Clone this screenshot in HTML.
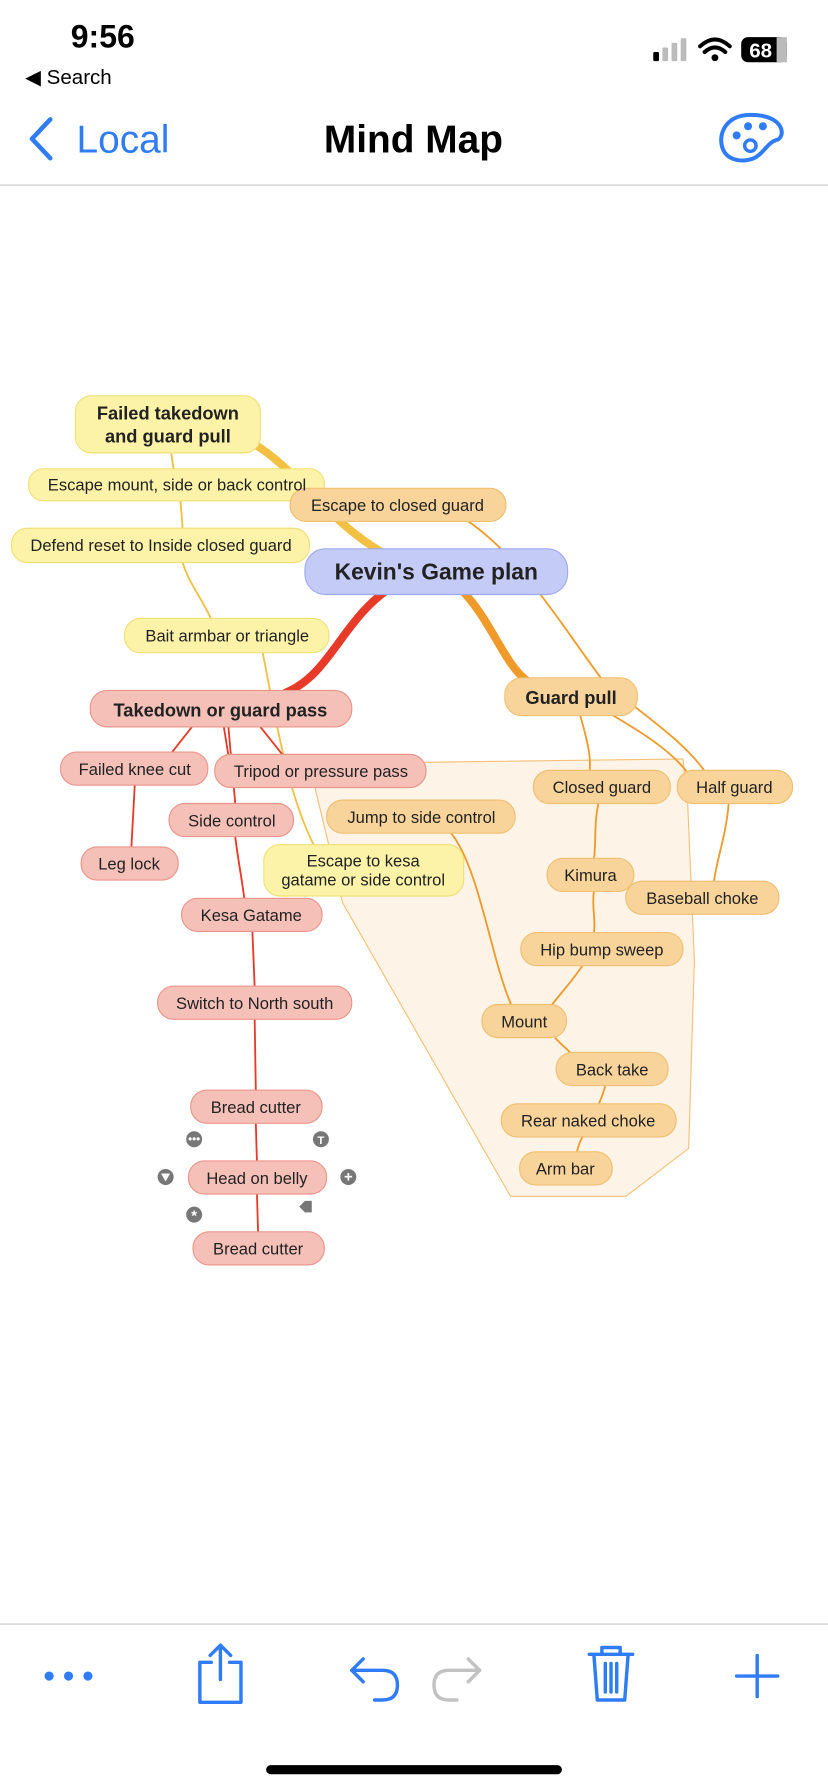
<!DOCTYPE html>
<html><head><meta charset="utf-8"><style>
html,body{margin:0;padding:0;background:#fff;width:828px;height:1792px;overflow:hidden}
svg{display:block}
text{font-family:"Liberation Sans",Arial,sans-serif}
</style></head><body>
<svg width="828" height="1792" viewBox="0 0 725 1568" xmlns="http://www.w3.org/2000/svg">
<!-- status bar -->
<text x="90" y="41" font-size="28" font-weight="bold" text-anchor="middle" fill="#000">9:56</text>
<text x="22" y="73" font-size="18" fill="#000">◀ Search</text>
<rect x="572" y="45" width="5" height="8" rx="1" fill="#000"/>
<rect x="580" y="41" width="5" height="12" rx="1" fill="#bbb"/>
<rect x="588" y="37" width="5" height="16" rx="1" fill="#bbb"/>
<rect x="596" y="33" width="5" height="20" rx="1" fill="#bbb"/>
<path d="M613 40 Q626 28 639 40 M617 45 Q626 37 635 45" stroke="#000" stroke-width="3.5" fill="none" stroke-linecap="round"/>
<circle cx="626" cy="50" r="3" fill="#000"/>
<rect x="649" y="32" width="40" height="22" rx="6" fill="#000"/>
<rect x="680" y="32" width="9" height="22" fill="#bbb"/>
<text x="666" y="50" font-size="18" font-weight="bold" fill="#fff" text-anchor="middle">68</text>
<!-- nav -->
<path d="M44 104 L28 121 L44 138" stroke="#2f7cf6" stroke-width="4" fill="none" stroke-linecap="round" stroke-linejoin="round"/>
<text x="67" y="133" font-size="34" fill="#2f7cf6">Local</text>
<text x="362" y="133" font-size="34" font-weight="bold" text-anchor="middle" fill="#000">Mind Map</text>
<path d="M657 100 C635 100 628 118 633 130 C637 140 650 142 660 138 C668 135 672 124 680 122 C688 120 688 100 657 100 Z" fill="none" stroke="#2f7cf6" stroke-width="3.5"/>
<circle cx="645" cy="118" r="3.5" fill="#2f7cf6"/><circle cx="655" cy="110" r="3.5" fill="#2f7cf6"/><circle cx="668" cy="110" r="3.5" fill="#2f7cf6"/><circle cx="657" cy="127" r="5" fill="none" stroke="#2f7cf6" stroke-width="3"/>
<line x1="0" y1="161.5" x2="725" y2="161.5" stroke="#c8c8c8" stroke-width="1"/>
<!-- boundary -->
<path d="M276 690 L290 668 L598 664 L602 700 L608 840 L603 1005 L548 1047 L447 1047 L300 790 Z" fill="#fdf3e6" stroke="#f5c07a" stroke-width="1"/>
<!-- thick connectors -->
<path d="M345 512 C300 540 290 590 250 606" stroke="#e83a28" stroke-width="7" fill="none" stroke-linecap="round"/>
<path d="M400 512 C430 540 440 580 462 596" stroke="#f09a2a" stroke-width="7" fill="none" stroke-linecap="round"/>
<path d="M340 486 C290 460 260 410 222 388" stroke="#f2c042" stroke-width="7" fill="none" stroke-linecap="round"/>
<!-- thin orange -->
<g stroke="#f09a2a" stroke-width="1.6" fill="none">
<path d="M410 456 C460 490 500 560 530 598 C570 630 600 650 618 676"/>
<path d="M508 626 C515 650 518 665 516 676"/>
<path d="M530 622 C570 645 590 660 602 676"/>
<path d="M524 703 C520 720 522 740 520 752"/>
<path d="M520 780 C518 795 522 805 520 817"/>
<path d="M510 845 C500 860 490 870 482 881"/>
<path d="M486 908 C492 915 497 918 500 922"/>
<path d="M530 950 C528 958 526 962 524 967"/>
<path d="M510 995 C507 1000 506 1004 505 1009"/>
<path d="M638 703 C636 730 628 750 625 772"/>
<path d="M395 729 C420 760 430 840 448 880"/>
</g>
<!-- thin yellow -->
<g stroke="#f2c042" stroke-width="1.6" fill="none">
<path d="M150 396 L152 411"/>
<path d="M158 438 L160 463"/>
<path d="M160 492 C165 510 178 525 185 542"/>
<path d="M230 571 C240 620 250 690 275 740"/>
</g>
<!-- thin red -->
<g stroke="#e83a28" stroke-width="1.6" fill="none">
<path d="M168 636 L150 659"/>
<path d="M196 636 L200 661"/>
<path d="M228 636 L248 661"/>
<path d="M200 636 C202 660 205 690 206 704"/>
<path d="M118 687 L115 742"/>
<path d="M206 732 C208 750 212 770 214 787"/>
<path d="M221 815 L223 864"/>
<path d="M223 892 L224 955"/>
<path d="M224 983 L225 1017"/>
<path d="M225 1045 L226 1079"/>
</g>
<!-- yellow nodes -->
<g fill="#fdf3a8" stroke="#f0e07a" stroke-width="1">
<rect x="66" y="346" width="162" height="50" rx="14"/>
<rect x="25" y="410" width="259" height="28" rx="13"/>
<rect x="10" y="462" width="261" height="30" rx="14"/>
<rect x="109" y="541" width="179" height="30" rx="14"/>
<rect x="231" y="739" width="175" height="45" rx="14"/>
</g>
<!-- orange nodes -->
<g fill="#f8d49a" stroke="#f0bf70" stroke-width="1">
<rect x="254" y="427" width="189" height="29" rx="14"/>
<rect x="442" y="593" width="116" height="33" rx="15"/>
<rect x="467" y="674" width="120" height="29" rx="14"/>
<rect x="593" y="674" width="101" height="29" rx="14"/>
<rect x="286" y="700" width="165" height="29" rx="14"/>
<rect x="479" y="751" width="76" height="29" rx="14"/>
<rect x="548" y="771" width="134" height="29" rx="14"/>
<rect x="456" y="816" width="142" height="29" rx="14"/>
<rect x="422" y="879" width="74" height="29" rx="14"/>
<rect x="487" y="921" width="98" height="29" rx="14"/>
<rect x="439" y="966" width="153" height="29" rx="14"/>
<rect x="455" y="1008" width="81" height="29" rx="14"/>
</g>
<!-- pink nodes -->
<g fill="#f5c0b8" stroke="#ea958a" stroke-width="1">
<rect x="79" y="604" width="229" height="32" rx="15"/>
<rect x="53" y="658" width="129" height="29" rx="14"/>
<rect x="188" y="660" width="185" height="29" rx="14"/>
<rect x="148" y="703" width="109" height="29" rx="14"/>
<rect x="71" y="741" width="85" height="29" rx="14"/>
<rect x="159" y="786" width="123" height="29" rx="14"/>
<rect x="138" y="863" width="170" height="29" rx="14"/>
<rect x="167" y="954" width="115" height="29" rx="14"/>
<rect x="165" y="1016" width="121" height="29" rx="14"/>
<rect x="169" y="1078" width="115" height="29" rx="14"/>
</g>
<!-- central -->
<rect x="267" y="480" width="230" height="40" rx="18" fill="#c5cbf7" stroke="#9ea8ee"/>
<!-- texts -->
<g font-size="14.5" fill="#222" text-anchor="middle">
<text x="147" y="367" font-size="16" font-weight="bold">Failed takedown</text>
<text x="147" y="387" font-size="16" font-weight="bold">and guard pull</text>
<text x="155" y="429">Escape mount, side or back control</text>
<text x="348" y="447">Escape to closed guard</text>
<text x="141" y="482">Defend reset to Inside closed guard</text>
<text x="382" y="507" font-size="20" font-weight="bold">Kevin's Game plan</text>
<text x="199" y="561">Bait armbar or triangle</text>
<text x="193" y="627" font-size="16" font-weight="bold">Takedown or guard pass</text>
<text x="500" y="616" font-size="16" font-weight="bold">Guard pull</text>
<text x="118" y="678">Failed knee cut</text>
<text x="281" y="680">Tripod or pressure pass</text>
<text x="527" y="694">Closed guard</text>
<text x="643" y="694">Half guard</text>
<text x="369" y="720">Jump to side control</text>
<text x="203" y="723">Side control</text>
<text x="318" y="758">Escape to kesa</text>
<text x="318" y="775">gatame or side control</text>
<text x="113" y="761">Leg lock</text>
<text x="517" y="771">Kimura</text>
<text x="615" y="791">Baseball choke</text>
<text x="220" y="806">Kesa Gatame</text>
<text x="527" y="836">Hip bump sweep</text>
<text x="223" y="883">Switch to North south</text>
<text x="459" y="899">Mount</text>
<text x="536" y="941">Back take</text>
<text x="224" y="974">Bread cutter</text>
<text x="515" y="986">Rear naked choke</text>
<text x="225" y="1036">Head on belly</text>
<text x="495" y="1028">Arm bar</text>
<text x="226" y="1098">Bread cutter</text>
</g>
<!-- selection icons -->
<g fill="#777">
<circle cx="170" cy="997" r="7"/><circle cx="281" cy="997" r="7"/>
<circle cx="145" cy="1030" r="7"/><circle cx="305" cy="1030" r="7"/>
<circle cx="170" cy="1063" r="7"/>
<path d="M262 1056 L267 1051 L273 1051 L273 1061 L267 1061 Z"/>
</g>
<g fill="#fff" font-size="10" font-weight="bold" text-anchor="middle">
<text x="170" y="1000">•••</text><text x="281" y="1001">T</text>
<path d="M141 1027 L149 1027 L145 1034 Z"/>
<text x="305" y="1034" font-size="13">+</text>
<text x="170" y="1068" font-size="13">*</text>
</g>
<!-- bottom toolbar -->
<line x1="0" y1="1421.5" x2="725" y2="1421.5" stroke="#c8c8c8"/>
<g fill="#2f7cf6"><circle cx="43" cy="1467" r="4"/><circle cx="60" cy="1467" r="4"/><circle cx="77" cy="1467" r="4"/></g>
<g stroke="#2f7cf6" stroke-width="3" fill="none" stroke-linecap="round" stroke-linejoin="round">
<path d="M185 1455 L175 1455 L175 1490 L211 1490 L211 1455 L201 1455"/>
<path d="M193 1470 L193 1440 M184 1449 L193 1440 L202 1449"/>
<path d="M318 1452 L308 1462 L318 1472 M308 1462 L335 1462 Q348 1462 348 1475 Q348 1488 335 1488 L328 1488"/>
<path d="M516 1448 L554 1448 M527 1448 L527 1442 L543 1442 L543 1448 M520 1448 L523 1488 L547 1488 L550 1448 M530 1456 L530 1481 M535 1456 L535 1481 M540 1456 L540 1481"/>
<path d="M663 1449 L663 1485 M645 1467 L681 1467"/>
</g>
<path d="M410 1452 L420 1462 L410 1472 M420 1462 L393 1462 Q380 1462 380 1475 Q380 1488 393 1488 L400 1488" stroke="#c2c2c2" stroke-width="3" fill="none" stroke-linecap="round" stroke-linejoin="round"/>
<rect x="233" y="1545" width="259" height="8" rx="4" fill="#000"/>
</svg>
</body></html>
